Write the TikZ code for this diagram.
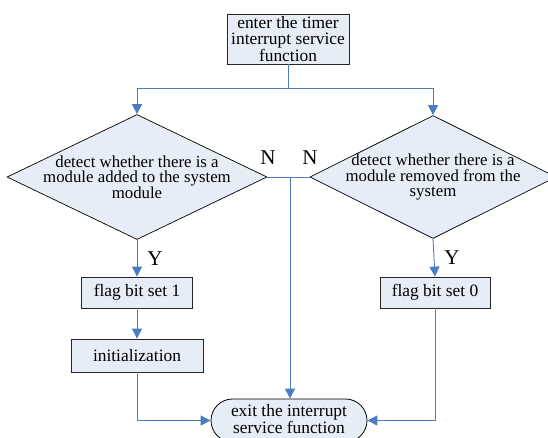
\documentclass[tikz,border=0pt]{standalone}
\usepackage{fontspec}
\setmainfont{Liberation Serif}
\usetikzlibrary{shapes.geometric,shapes.misc,arrows.meta}
\definecolor{boxfill}{RGB}{231,237,247}
\definecolor{linkblue}{RGB}{75,125,195}
\tikzset{
  procbox/.style={draw=black!85, fill=boxfill, line width=0.8pt, inner sep=0pt, align=center, font=\fontsize{17.4}{16.5}\selectfont},
  decbox/.style={draw=black, fill=boxfill, line width=0.7pt, diamond, inner sep=0pt},
  dectext/.style={align=center, font=\fontsize{16.8}{15.4}\selectfont, inner sep=0pt},
  termbox/.style={draw=black, fill=boxfill, line width=0.8pt, rounded rectangle, inner sep=0pt, align=center, font=\fontsize{17.4}{15}\selectfont},
  link/.style={draw=linkblue, line width=0.9pt},
  arr/.style={link, -{Triangle[length=10pt,width=10pt]}},
  yn/.style={font=\fontsize{21}{21}\selectfont, inner sep=0pt}
}
\begin{document}
\begin{tikzpicture}[x=1pt,y=-1pt]
\useasboundingbox (0,0) rectangle (548,437);
\begin{scope}
\clip (0,0) rectangle (548,437);
\node[procbox, minimum width=122pt, minimum height=50pt] (top) at (288,39) {enter the timer\\interrupt service\\function};
\node[decbox, minimum width=260pt, minimum height=125pt] (dl) at (137,177) {};
\node[dectext] (dlt) at (137,177) {detect whether there is a\\module added to the system\\module};
\node[decbox, minimum width=246pt, minimum height=123pt] (dr) at (433,177) {};
\node[dectext] (drt) at (433,177) {detect whether there is a\\module removed from the\\system};
\node[procbox, minimum width=111pt, minimum height=31pt] (f1) at (137,292.5) {flag bit set 1};
\node[procbox, minimum width=132pt, minimum height=33pt] (ini) at (137,355.5) {initialization};
\node[procbox, minimum width=110pt, minimum height=31pt] (f0) at (435,292.5) {flag bit set 0};
\node[termbox, minimum width=156pt, minimum height=43pt] (ex) at (289,420.5) {};
\node[align=center, inner sep=0pt, font=\fontsize{17.4}{15}\selectfont] (ext) at (289,419) {exit the interrupt\\service function};

\coordinate (j) at (288,88);
\coordinate (m) at (290,177);
\draw[link] (top.south) -- (j);
\draw[arr] (j) -| (dl.north);
\draw[arr] (j) -| (dr.north);
\draw[arr] (dl.south) -- (f1.north);
\draw[arr] (f1.south) -- (ini.north);
\draw[arr] (ini.south) |- (ex.west);
\draw[link] (dl.east) -- (m);
\draw[link] (dr.west) -- (m);
\draw[arr] (m) -- (m |- ex.north);
\draw[arr] (dr.south) -- (f0.north);
\draw[arr] (f0.south) |- (ex.east);

\node[yn] (nl) at (268,158) {N};
\node[yn] (nr) at (310,158) {N};
\node[yn] (yl) at (155,259) {Y};
\node[yn] (yr) at (452,258) {Y};
\end{scope}
\end{tikzpicture}
\end{document}
